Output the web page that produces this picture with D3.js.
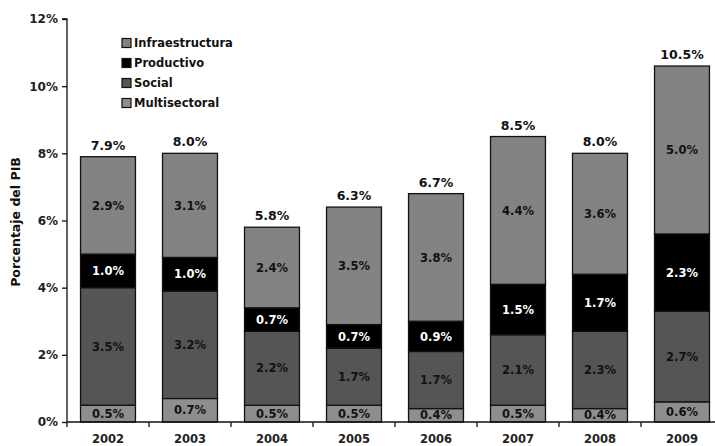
<!DOCTYPE html>
<html>
<head>
<meta charset="utf-8">
<script src="https://cdn.jsdelivr.net/npm/d3@7/dist/d3.min.js"></script>
<style>
  html, body { margin: 0; padding: 0; background: #fff; }
  svg { display: block; font-family: "DejaVu Sans", Verdana, sans-serif; }
</style>
</head>
<body>
<svg id="chart" width="715" height="446"></svg>
<script>
// Years on the x axis
const years = ["2002", "2003", "2004", "2005", "2006", "2007", "2008", "2009"];

// Share of GDP by sector (%), stacked bottom to top
const multisectoral  = [0.5, 0.7, 0.5, 0.5, 0.4, 0.5, 0.4, 0.6];
const social         = [3.5, 3.2, 2.2, 1.7, 1.7, 2.1, 2.3, 2.7];
const productivo     = [1.0, 1.0, 0.7, 0.7, 0.9, 1.5, 1.7, 2.3];
const infraestructura = [2.9, 3.1, 2.4, 3.5, 3.8, 4.4, 3.6, 5.0];

// Total shown above each bar (%)
const totals = [7.9, 8.0, 5.8, 6.3, 6.7, 8.5, 8.0, 10.5];

// Y axis ticks (%)
const yTicks = [0, 2, 4, 6, 8, 10, 12];

const seriesKeys = ["Multisectoral", "Social", "Productivo", "Infraestructura"];
const seriesValues = {
  "Multisectoral": multisectoral,
  "Social": social,
  "Productivo": productivo,
  "Infraestructura": infraestructura
};
const fills = {
  "Multisectoral": "#8e8e8e",
  "Social": "#555555",
  "Productivo": "#000000",
  "Infraestructura": "#7f7f7f"
};
const labelColors = {
  "Multisectoral": "#111",
  "Social": "#111",
  "Productivo": "#fff",
  "Infraestructura": "#111"
};

const rows = years.map((yr, i) => {
  const r = { year: yr };
  seriesKeys.forEach(k => { r[k] = seriesValues[k][i]; });
  return r;
});

const svg = d3.select("#chart");
const plotTop = 19;
const plotBottom = 422;

const x = d3.scaleBand().domain(years).range([67, 723]).paddingInner(0.33).paddingOuter(0.165);
const y = d3.scaleLinear().domain([0, 12]).range([plotBottom, plotTop]);

const stack = d3.stack().keys(seriesKeys);
const stacked = stack(rows);

// Fine texture for the infrastructure segments
const defs = svg.append("defs");
const pat = defs.append("pattern").attr("id", "infraTex")
  .attr("patternUnits", "userSpaceOnUse").attr("width", 2).attr("height", 2);
pat.append("rect").attr("width", 2).attr("height", 2).attr("fill", "#7f7f7f");
pat.append("rect").attr("width", 1).attr("height", 1).attr("fill", "#868686");
pat.append("rect").attr("x", 1).attr("y", 1).attr("width", 1).attr("height", 1).attr("fill", "#868686");

const segFill = k => k === "Infraestructura" ? "url(#infraTex)" : fills[k];

// Stacked bars
const layers = svg.append("g").selectAll("g").data(stacked).join("g");
layers.selectAll("rect").data(d => d.map(p => ({ p, key: d.key })))
  .join("rect")
  .attr("x", d => x(d.p.data.year))
  .attr("width", x.bandwidth())
  .attr("y", d => y(d.p[1]))
  .attr("height", d => y(d.p[0]) - y(d.p[1]))
  .attr("fill", d => segFill(d.key))
  .attr("stroke", "#111")
  .attr("stroke-width", 1.3);

// Segment value labels
layers.selectAll("text").data(d => d.map(p => ({ p, key: d.key })))
  .join("text")
  .attr("x", d => x(d.p.data.year) + x.bandwidth() / 2)
  .attr("y", d => (y(d.p[0]) + y(d.p[1])) / 2)
  .attr("dy", "0.36em")
  .attr("text-anchor", "middle")
  .attr("font-size", 11.5)
  .attr("font-weight", "bold")
  .attr("fill", d => labelColors[d.key])
  .text(d => (d.p[1] - d.p[0]).toFixed(1) + "%");

// Totals above bars
const barTops = stacked[stacked.length - 1];
svg.append("g").selectAll("text").data(years)
  .join("text")
  .attr("x", d => x(d) + x.bandwidth() / 2)
  .attr("y", (d, i) => y(barTops[i][1]) - 7)
  .attr("text-anchor", "middle")
  .attr("font-size", 12.5)
  .attr("font-weight", "bold")
  .attr("fill", "#111")
  .text((d, i) => totals[i].toFixed(1) + "%");

// Y axis
const yAxis = d3.axisLeft(y).tickValues(yTicks).tickFormat(d => d + "%").tickSize(5).tickPadding(4);
const gy = svg.append("g").attr("transform", "translate(67,0)").call(yAxis);
gy.select(".domain").attr("stroke", "#111").attr("stroke-width", 1.3).attr("d", `M-5,${y(12)}H0V${y(0)}`);
gy.selectAll(".tick line").attr("stroke", "#111").attr("stroke-width", 1.3);
gy.selectAll(".tick text").attr("font-size", 12).attr("font-weight", "bold").attr("fill", "#222")
  .attr("font-family", "DejaVu Sans, Verdana, sans-serif");

// X axis: line with ticks at band boundaries
const gx = svg.append("g");
gx.append("line").attr("x1", 67).attr("x2", 723).attr("y1", plotBottom).attr("y2", plotBottom)
  .attr("stroke", "#111").attr("stroke-width", 1.3);
const step = x.step();
const bounds = d3.range(years.length + 1).map(i => x(years[0]) - x.paddingOuter() * step + i * step);
gx.selectAll("line.tk").data(bounds).join("line").attr("class", "tk")
  .attr("x1", d => d).attr("x2", d => d).attr("y1", plotBottom).attr("y2", plotBottom + 5)
  .attr("stroke", "#111").attr("stroke-width", 1.3);
gx.selectAll("text").data(years).join("text")
  .attr("x", d => x(d) + x.bandwidth() / 2)
  .attr("y", 443)
  .attr("text-anchor", "middle")
  .attr("font-size", 11.5)
  .attr("font-weight", "bold")
  .attr("fill", "#222")
  .text(d => d);

// Y axis title
svg.append("text")
  .attr("transform", "translate(20,222) rotate(-90)")
  .attr("text-anchor", "middle")
  .attr("font-size", 12.5)
  .attr("font-weight", "bold")
  .attr("fill", "#111")
  .text("Porcentaje del PIB");

// Legend (top to bottom mirrors stack order)
const legendKeys = seriesKeys.slice().reverse();
const lg = svg.append("g").selectAll("g").data(legendKeys).join("g")
  .attr("transform", (d, i) => `translate(122,${43 + i * 20})`);
lg.append("rect").attr("x", 0).attr("y", -4.5).attr("width", 9).attr("height", 9)
  .attr("fill", d => segFill(d)).attr("stroke", "#111").attr("stroke-width", 1.2);
lg.append("text").attr("x", 12).attr("y", 0).attr("dy", "0.36em")
  .attr("font-size", 11.5).attr("font-weight", "bold").attr("fill", "#111")
  .text(d => d);
</script>
</body>
</html>
